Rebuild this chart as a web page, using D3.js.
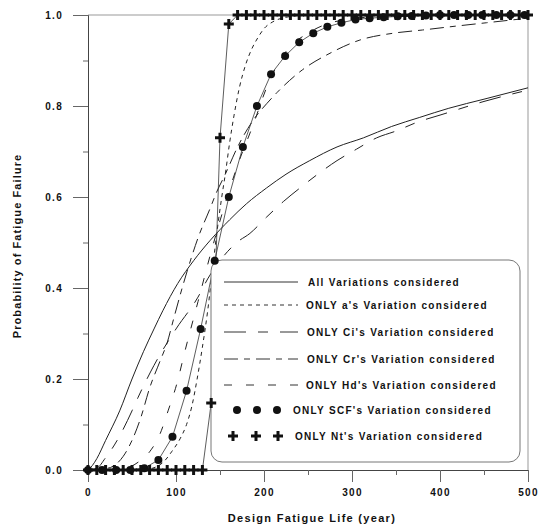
<!DOCTYPE html>
<html><head><meta charset="utf-8">
<script src="https://cdn.jsdelivr.net/npm/d3@7"></script>
<style>
body{margin:0;background:#fff;}
text{font-family:"Liberation Sans",Arial,sans-serif;font-weight:bold;fill:#111;}
</style></head>
<body>
<script>
// ---- data ----
const xAll = [0,5,10,20,36,50,63,75,85,102,120,139,161,180,203,225,252,283,313,345,377,410,450,500];
const pAll = [0,0.01,0.025,0.065,0.13,0.2,0.26,0.31,0.35,0.41,0.46,0.505,0.55,0.585,0.62,0.65,0.68,0.71,0.73,0.755,0.775,0.795,0.815,0.84];

const xA = [0,60,75,87,95,105,112,118,124,130,136,142,147,152,156,161,166,172,179,186,193,200,210,225,250,500];
const pA = [0,0,0.005,0.02,0.04,0.07,0.1,0.14,0.2,0.27,0.35,0.45,0.53,0.6,0.65,0.72,0.78,0.84,0.89,0.925,0.95,0.97,0.985,0.995,1,1];

const xCi = [0,10,20,30,36,50,57,75,100,125,136,150,169,184,203,222,241,261,283,305,328,350,375,400,450,500];
const pCi = [0,0.004,0.027,0.055,0.075,0.13,0.16,0.23,0.31,0.38,0.42,0.46,0.5,0.52,0.556,0.59,0.62,0.65,0.68,0.705,0.73,0.745,0.765,0.78,0.81,0.835];

const xCr = [0,20,30,40,50,60,70,82,90,97,107,118,125,139,146,156,170,190,203,215,244,275,309,347,380,411,453,500];
const pCr = [0,0.003,0.01,0.03,0.065,0.115,0.18,0.24,0.28,0.33,0.4,0.47,0.51,0.576,0.61,0.65,0.71,0.775,0.805,0.83,0.88,0.916,0.945,0.96,0.967,0.974,0.983,0.993];

const xHd = [0,40,59,70,82,91,101,110,125,140,155,170,187,205,225,250,280,320,500];
const pHd = [0,0.003,0.02,0.04,0.08,0.13,0.19,0.26,0.37,0.48,0.58,0.67,0.755,0.85,0.92,0.96,0.985,0.995,1];

const xSCF = [0,16,32,48,64,80,96,112,128,144,160,176,192,208,224,240,256,272,288,304,320,336,352,368,384,400,416,432,448,464,480,496];
const pSCF = [0,0,0,0,0.004,0.022,0.073,0.174,0.31,0.46,0.6,0.71,0.8,0.87,0.91,0.94,0.96,0.974,0.983,0.99,0.993,0.995,0.997,0.998,0.999,1,1,1,1,1,1,1];

const xNt = [0,10,20,30,40,50,60,70,80,90,100,110,120,130,140,150,160,170,180,190,200,210,220,230,240,250,260,270,280,290,300,310,320,330,340,350,360,370,380,390,400,410,420,430,440,450,460,470,480,490,500];
const pNt = [0,0,0,0,0,0,0,0,0,0,0,0,0,0,0.147,0.73,0.98,1,1,1,1,1,1,1,1,1,1,1,1,1,1,1,1,1,1,1,1,1,1,1,1,1,1,1,1,1,1,1,1,1,1];

const xTicks = [0,100,200,300,400,500];
const xMinor = [50,150,250,350,450];
const yTicks = [0,0.2,0.4,0.6,0.8,1.0];
const yMinor = [0.1,0.3,0.5,0.7,0.9];

const legendLabels = ["All Variations considered","ONLY a's Variation considered","ONLY Ci's Variation considered",
  "ONLY Cr's Variation considered","ONLY Hd's Variation considered","ONLY SCF's Variation considered","ONLY Nt's Variation considered"];

// ---- drawing ----
const W=543,H=529;
const x = d3.scaleLinear().domain([0,500]).range([88,528]);
const y = d3.scaleLinear().domain([0,1]).range([470,15]);
const svg = d3.select("body").append("svg").attr("width",W).attr("height",H);

svg.append("defs").append("clipPath").attr("id","clip").append("rect")
  .attr("x",82).attr("y",8).attr("width",452).attr("height",470);

// frame
svg.append("line").attr("x1",88).attr("x2",528).attr("y1",15).attr("y2",15).attr("stroke","#999").attr("stroke-width",1);
svg.append("line").attr("x1",528).attr("x2",528).attr("y1",15).attr("y2",470).attr("stroke","#999").attr("stroke-width",1);

const fmtY = d3.format(".1f");
svg.append("g").attr("transform","translate(88,0)")
  .call(d3.axisLeft(y).tickValues(yTicks).tickSize(15).tickPadding(10).tickFormat(fmtY));
svg.append("g").attr("transform","translate(88,0)")
  .call(d3.axisLeft(y).tickValues(yMinor).tickSize(5).tickFormat(""))
  .select(".domain").remove();
svg.append("g").attr("transform","translate(0,470)")
  .call(d3.axisBottom(x).tickValues(xTicks).tickSize(12).tickPadding(7).tickFormat(d3.format("d")));
svg.append("g").attr("transform","translate(0,470)")
  .call(d3.axisBottom(x).tickValues(xMinor).tickSize(5).tickFormat(""))
  .select(".domain").remove();
svg.selectAll(".domain").attr("stroke","#444");
svg.selectAll(".tick line").attr("stroke","#666");
svg.selectAll(".tick text").style("font-size","10px").style("letter-spacing","1.3px")
  .style("font-family","'Liberation Sans',Arial,sans-serif").style("font-weight","bold").attr("fill","#111");

// axis titles
svg.append("text").attr("x",312).attr("y",522).attr("text-anchor","middle")
  .style("font-size","11px").style("letter-spacing","1.3px").text("Design Fatigue Life (year)");
svg.append("text").attr("transform","translate(21,246) rotate(-90)").attr("text-anchor","middle")
  .style("font-size","11px").style("letter-spacing","1.1px").text("Probability of Fatigue Failure");

// curves
const series = [
  {xs:xAll,ps:pAll,dash:null},
  {xs:xA,ps:pA,dash:"4,4"},
  {xs:xCi,ps:pCi,dash:"22,12,10,12"},
  {xs:xCr,ps:pCr,dash:"14,6,6,6"},
  {xs:xHd,ps:pHd,dash:"8,14"}
];
const line = d3.line().x(d=>x(d[0])).y(d=>y(d[1])).curve(d3.curveMonotoneX);
const plot = svg.append("g").attr("clip-path","url(#clip)");
series.forEach(s=>{
  plot.append("path").datum(s.xs.map((v,i)=>[v,s.ps[i]]))
    .attr("d",line).attr("fill","none").attr("stroke","#222").attr("stroke-width",1)
    .attr("stroke-dasharray",s.dash);
});
const scfData = xSCF.map((v,i)=>[v,pSCF[i]]);
const ntData = xNt.map((v,i)=>[v,pNt[i]]);
const lineL = d3.line().x(d=>x(d[0])).y(d=>y(d[1]));
plot.append("path").datum(scfData).attr("d",lineL).attr("fill","none").attr("stroke","#333").attr("stroke-width",0.8);
plot.append("path").datum(ntData).attr("d",lineL).attr("fill","none").attr("stroke","#333").attr("stroke-width",0.8);

// legend
const lg = svg.append("g");
lg.append("rect").attr("x",211).attr("y",260).attr("width",309).attr("height",202).attr("rx",11)
  .attr("fill","#fff").attr("stroke","#777").attr("stroke-width",1);
const rowY = [282,305,332,359,385,410,436];
const textX = [308,306,307,307,306,293,295];
for(let i=0;i<5;i++){
  lg.append("line").attr("x1",224).attr("x2",298).attr("y1",rowY[i]).attr("y2",rowY[i])
    .attr("stroke","#333").attr("stroke-width",1).attr("stroke-dasharray",series[i].dash);
}
[237,257,277].forEach(cx=>lg.append("circle").attr("cx",cx).attr("cy",rowY[5]).attr("r",4).attr("fill","#111"));
const plusPath = "M-5,0H5M0,-5V5";
[233,256,278].forEach(cx=>lg.append("path").attr("d",plusPath).attr("transform",`translate(${cx},${rowY[6]})`)
  .attr("stroke","#111").attr("stroke-width",3).attr("fill","none"));
legendLabels.forEach((t,i)=>{
  lg.append("text").attr("x",textX[i]).attr("y",rowY[i]+3.5)
    .style("font-size","10px").style("letter-spacing","1.3px").text(t);
});

// markers on top
const mk = svg.append("g").attr("clip-path","url(#clip)");
mk.selectAll("circle.scf").data(scfData).enter().append("circle")
  .attr("cx",d=>x(d[0])).attr("cy",d=>y(d[1])).attr("r",4).attr("fill","#111");
mk.selectAll("path.nt").data(ntData).enter().append("path").attr("d",plusPath)
  .attr("transform",d=>`translate(${x(d[0])},${y(d[1])})`)
  .attr("stroke","#111").attr("stroke-width",3).attr("fill","none");
</script>
</body></html>
